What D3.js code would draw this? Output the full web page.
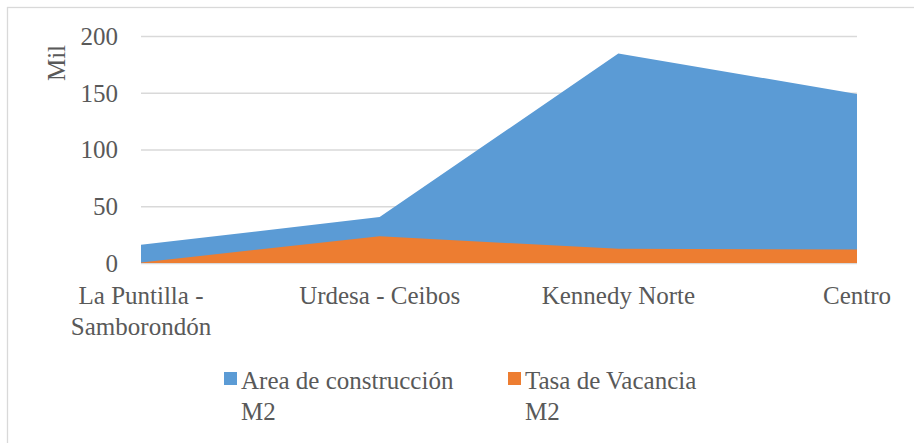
<!DOCTYPE html>
<html>
<head>
<meta charset="utf-8">
<script src="https://cdn.jsdelivr.net/npm/d3@7"></script>
<style>
  body { margin: 0; background: #fff; }
  svg text, svg tspan { font-family: "Liberation Serif", "Times New Roman", serif !important; }
</style>
</head>
<body>
<svg id="chart" width="914" height="443"></svg>
<script>
// data (thousands of m2)
var categories = ["La Puntilla - Samborondón", "Urdesa - Ceibos", "Kennedy Norte", "Centro"]
var labelLines = [["La Puntilla -", "Samborondón"], ["Urdesa - Ceibos"], ["Kennedy Norte"], ["Centro"]]
var areaConstruccion = [16, 40.5, 184.5, 149]
var tasaVacancia = [0.5, 23.5, 12.5, 12]
var yTicks = [0, 50, 100, 150, 200]
var seriesNames = [["Area de construcción", "M2"], ["Tasa de Vacancia", "M2"]]
var colors = ["#5B9BD5", "#ED7D31"]

var FONT = "Times New Roman"
var svg = d3.select("#chart")

// chart frame (only top + left edges show)
svg.append("rect")
  .attr("x", 7.5).attr("y", 7.5)
  .attr("width", 940).attr("height", 460)
  .attr("fill", "none").attr("stroke", "#d9d9d9").attr("stroke-width", 1.3)

var x = d3.scalePoint().domain(categories).range([141, 857])
var y = d3.scaleLinear().domain([0, 200]).range([263, 36])

// gridlines
svg.append("g")
  .selectAll("line")
  .data(yTicks)
  .enter()
  .append("line")
  .attr("x1", 141).attr("x2", 857)
  .attr("y1", d => y(d) + 0.5).attr("y2", d => y(d) + 0.5)
  .attr("stroke", "#d9d9d9").attr("stroke-width", 1.3)

var area = d3.area()
  .x(d => x(d.cat))
  .y0(y(0))
  .y1(d => y(d.v))

var series = [areaConstruccion, tasaVacancia]
series.forEach(function(vals, i) {
  svg.append("path")
    .datum(vals.map((v, j) => ({cat: categories[j], v: v})))
    .attr("d", area)
    .attr("fill", colors[i])
})

// y tick labels
svg.append("g")
  .selectAll("text")
  .data(yTicks)
  .enter()
  .append("text")
  .attr("x", 118)
  .attr("y", d => y(d))
  .attr("dy", "0.35em")
  .attr("text-anchor", "end")
  .attr("font-family", FONT)
  .attr("font-size", 25)
  .attr("fill", "#595959")
  .text(d => d)

// axis title
svg.append("text")
  .attr("transform", "translate(65,63) rotate(-90)")
  .attr("text-anchor", "middle")
  .attr("font-family", FONT)
  .attr("font-size", 25)
  .attr("fill", "#595959")
  .text("Mil")

// x labels
var xl = svg.append("g")
  .selectAll("text")
  .data(categories)
  .enter()
  .append("text")
  .attr("text-anchor", "middle")
  .attr("font-family", FONT)
  .attr("font-size", 25)
  .attr("fill", "#595959")
  .attr("transform", d => "translate(" + x(d) + ",304)")

xl.selectAll("tspan")
  .data((d, i) => labelLines[i])
  .enter()
  .append("tspan")
  .attr("x", 0)
  .attr("dy", (d, i) => i == 0 ? 0 : 31)
  .text(d => d)

// legend
var legendX = [224, 508]
var leg = svg.append("g")
  .selectAll("g")
  .data(seriesNames)
  .enter()
  .append("g")
  .attr("transform", (d, i) => "translate(" + legendX[i] + ",0)")

leg.append("rect")
  .attr("x", 0).attr("y", 372)
  .attr("width", 13).attr("height", 13)
  .attr("fill", (d, i) => colors[i])

leg.append("text")
  .attr("font-family", FONT)
  .attr("font-size", 25)
  .attr("fill", "#595959")
  .attr("transform", "translate(17,389)")
  .selectAll("tspan")
  .data(d => d)
  .enter()
  .append("tspan")
  .attr("x", 0)
  .attr("dy", (d, i) => i == 0 ? 0 : 31)
  .text(d => d)
</script>
</body>
</html>
